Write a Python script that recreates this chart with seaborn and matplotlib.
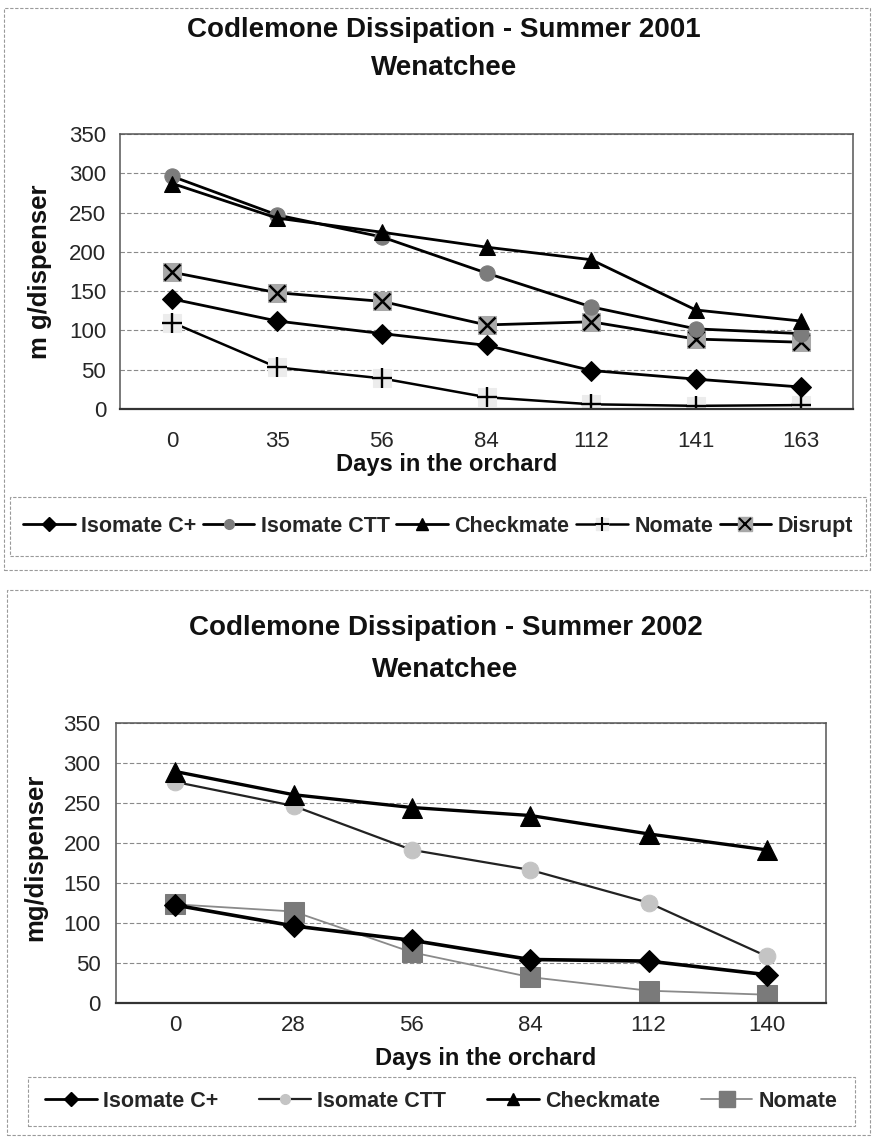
import matplotlib
matplotlib.use("Agg")
import numpy as np
import pandas as pd
import matplotlib.pyplot as plt
import seaborn as sns
from matplotlib.lines import Line2D
from matplotlib.patches import Rectangle
from matplotlib import font_manager

# ---------------- data ----------------
days_2001 = ["0", "35", "56", "84", "112", "141", "163"]
isomate_cplus_2001 = [140, 112, 96, 81, 49, 38, 28]
isomate_ctt_2001 = [296, 247, 219, 173, 130, 102, 96]
checkmate_2001 = [287, 243, 225, 206, 190, 126, 112]
nomate_2001 = [110, 53, 39, 15, 6, 4, 5]
disrupt_2001 = [174, 148, 137, 107, 111, 89, 85]

days_2002 = ["0", "28", "56", "84", "112", "140"]
isomate_cplus_2002 = [122, 96, 78, 54, 52, 35]
isomate_ctt_2002 = [276, 246, 191, 166, 125, 58]
checkmate_2002 = [289, 260, 244, 234, 211, 191]
nomate_2002 = [123, 114, 63, 32, 15, 10]

yticks = [0, 50, 100, 150, 200, 250, 300, 350]

# ---------------- style ----------------
sns.set_theme(style="white")
avail = {f.name for f in font_manager.fontManager.ttflist}
narrow = next((f for f in ["Liberation Sans Narrow", "Arial Narrow", "Liberation Sans"] if f in avail), "DejaVu Sans")
plt.rcParams["font.family"] = [narrow, "DejaVu Sans"]

W, H = 874, 1137
fig = plt.figure(figsize=(W / 100, H / 100), dpi=100)


def fx(px):
    return px / W


def fy(py):
    return 1 - py / H


def style_axes(ax, n, tickpad_x, tickpad_y):
    ax.set_xlim(-0.5, n - 0.5)
    ax.set_ylim(0, 350)
    ax.set_yticks(yticks)
    ax.set_xticks(range(n))
    ax.set_xticks(np.arange(-0.5, n, 1.0), minor=True)
    ax.tick_params(axis="x", which="major", length=0, pad=tickpad_x, labelsize=16)
    ax.tick_params(axis="x", which="minor", length=4, direction="out", color="#666666", width=1)
    ax.tick_params(axis="y", which="major", length=0, pad=tickpad_y, labelsize=16)
    ax.grid(axis="y", color="#8a8a8a", linestyle=(0, (4, 2)), linewidth=0.8)
    ax.grid(axis="x", visible=False)
    ax.set_axisbelow(True)
    for s in ax.spines.values():
        s.set_visible(True)
        s.set_color("#555555")
        s.set_linewidth(1.1)
    ax.spines["bottom"].set_color("#333333")
    ax.spines["bottom"].set_linewidth(1.6)
    ax.set_xlabel("")
    ax.set_ylabel("")
    if ax.get_legend() is not None:
        ax.get_legend().remove()


# ---------------- chart 1 ----------------
ax1 = fig.add_axes([fx(120), fy(409), fx(853) - fx(120), fy(134) - fy(409)])

sns.lineplot(x=days_2001, y=nomate_2001, sort=False, ax=ax1, color="black", linewidth=1.8,
             marker="s", markersize=13, markerfacecolor="#ececec", markeredgecolor="#ececec")
sns.lineplot(x=days_2001, y=nomate_2001, sort=False, ax=ax1, linestyle="none", color="black",
             marker="+", markersize=15, markeredgewidth=1.7, markeredgecolor="black")
sns.lineplot(x=days_2001, y=isomate_cplus_2001, sort=False, ax=ax1, color="black", linewidth=2.0,
             marker="D", markersize=10, markerfacecolor="black", markeredgecolor="black")
sns.lineplot(x=days_2001, y=disrupt_2001, sort=False, ax=ax1, color="black", linewidth=2.0,
             marker="s", markersize=13, markerfacecolor="#a8a8a8", markeredgecolor="#a8a8a8")
sns.lineplot(x=days_2001, y=disrupt_2001, sort=False, ax=ax1, linestyle="none", color="black",
             marker="x", markersize=11, markeredgewidth=1.8, markeredgecolor="black")
sns.lineplot(x=days_2001, y=isomate_ctt_2001, sort=False, ax=ax1, color="black", linewidth=2.0,
             marker="o", markersize=11, markerfacecolor="#7c7c7c", markeredgecolor="#7c7c7c")
sns.lineplot(x=days_2001, y=checkmate_2001, sort=False, ax=ax1, color="black", linewidth=2.0,
             marker="^", markersize=11, markerfacecolor="black", markeredgecolor="black")
style_axes(ax1, len(days_2001), 16, 10)

# ---------------- chart 2 ----------------
ax2 = fig.add_axes([fx(116), fy(1002.7), fx(826) - fx(116), fy(722.7) - fy(1002.7)])

sns.lineplot(x=days_2002, y=nomate_2002, sort=False, ax=ax2, color="#8a8a8a", linewidth=1.3,
             marker="s", markersize=14, markerfacecolor="#7a7a7a", markeredgecolor="#7a7a7a")
sns.lineplot(x=days_2002, y=isomate_cplus_2002, sort=False, ax=ax2, color="black", linewidth=2.6,
             marker="D", markersize=11, markerfacecolor="black", markeredgecolor="black")
sns.lineplot(x=days_2002, y=isomate_ctt_2002, sort=False, ax=ax2, color="#222222", linewidth=1.6,
             marker="o", markersize=12, markerfacecolor="#c4c4c4", markeredgecolor="#c4c4c4")
sns.lineplot(x=days_2002, y=checkmate_2002, sort=False, ax=ax2, color="black", linewidth=2.4,
             marker="^", markersize=14, markerfacecolor="black", markeredgecolor="black")
style_axes(ax2, len(days_2002), 9, 11)

# ---------------- texts ----------------
tkw = dict(fontweight="bold", ha="center", va="center", color="#111111")
fig.text(fx(444), fy(30), "Codlemone Dissipation - Summer 2001", fontsize=20, **tkw)
fig.text(fx(444), fy(68), "Wenatchee", fontsize=20, **tkw)
fig.text(fx(447), fy(465), "Days in the orchard", fontsize=17, **tkw)
fig.text(fx(40), fy(272), "m g/dispenser", fontsize=18.5, rotation=90, **tkw)

fig.text(fx(446), fy(628), "Codlemone Dissipation - Summer 2002", fontsize=20, **tkw)
fig.text(fx(445), fy(670), "Wenatchee", fontsize=20, **tkw)
fig.text(fx(486), fy(1058), "Days in the orchard", fontsize=17, **tkw)
fig.text(fx(35), fy(857), "mg/dispenser", fontsize=18.5, rotation=90, **tkw)

# ---------------- frames ----------------
frame_kw = dict(fill=False, edgecolor="#9a9a9a", linewidth=0.8, linestyle=(0, (3, 1.5)),
                transform=fig.transFigure, figure=fig)
fig.patches.append(Rectangle((fx(4), fy(570)), fx(870) - fx(4), fy(8) - fy(570), **frame_kw))
fig.patches.append(Rectangle((fx(10), fy(556)), fx(866) - fx(10), fy(497) - fy(556), **frame_kw))
fig.patches.append(Rectangle((fx(7), fy(1135)), fx(870) - fx(7), fy(590) - fy(1135), **frame_kw))
fig.patches.append(Rectangle((fx(28), fy(1126)), fx(855) - fx(28), fy(1077) - fy(1126), **frame_kw))

# ---------------- legends ----------------
nomate_h = (Line2D([], [], color="black", lw=1.8, marker="s", ms=9, mfc="#ececec", mec="#ececec"),
            Line2D([], [], color="black", lw=0, marker="+", ms=10, mew=1.5, mec="black"))
disrupt_h = (Line2D([], [], color="black", lw=2, marker="s", ms=10, mfc="#a8a8a8", mec="#a8a8a8"),
             Line2D([], [], color="black", lw=0, marker="x", ms=8, mew=1.5, mec="black"))
h1 = [
    Line2D([], [], color="black", lw=2, marker="D", ms=7, mfc="black", mec="black"),
    Line2D([], [], color="black", lw=2, marker="o", ms=7, mfc="#7c7c7c", mec="#7c7c7c"),
    Line2D([], [], color="black", lw=2, marker="^", ms=8, mfc="black", mec="black"),
    nomate_h,
    disrupt_h,
]
l1 = ["Isomate C+", "Isomate CTT", "Checkmate", "Nomate", "Disrupt"]
fig.legend(h1, l1, loc="center", ncol=5, frameon=False,
           bbox_to_anchor=(fx(10), fy(556), fx(866) - fx(10), fy(497) - fy(556)),
           bbox_transform=fig.transFigure, mode="expand",
           prop={"weight": "bold", "size": 15.5}, handlelength=2.4, handletextpad=0.3,
           columnspacing=1.0, borderaxespad=0.2)

h2 = [
    Line2D([], [], color="black", lw=2, marker="D", ms=7, mfc="black", mec="black"),
    Line2D([], [], color="#222222", lw=1.6, marker="o", ms=7, mfc="#c4c4c4", mec="#c4c4c4"),
    Line2D([], [], color="black", lw=2, marker="^", ms=8, mfc="black", mec="black"),
    Line2D([], [], color="#8a8a8a", lw=1.3, marker="s", ms=11, mfc="#7a7a7a", mec="#7a7a7a"),
]
l2 = ["Isomate C+", "Isomate CTT", "Checkmate", "Nomate"]
fig.legend(h2, l2, loc="center", ncol=4, frameon=False,
           bbox_to_anchor=(fx(28), fy(1126), fx(855) - fx(28), fy(1077) - fy(1126)),
           bbox_transform=fig.transFigure, mode="expand",
           prop={"weight": "bold", "size": 15.5}, handlelength=2.4, handletextpad=0.3,
           columnspacing=2.0, borderaxespad=0.4)

fig.savefig("out.png", dpi=100, facecolor="white")
